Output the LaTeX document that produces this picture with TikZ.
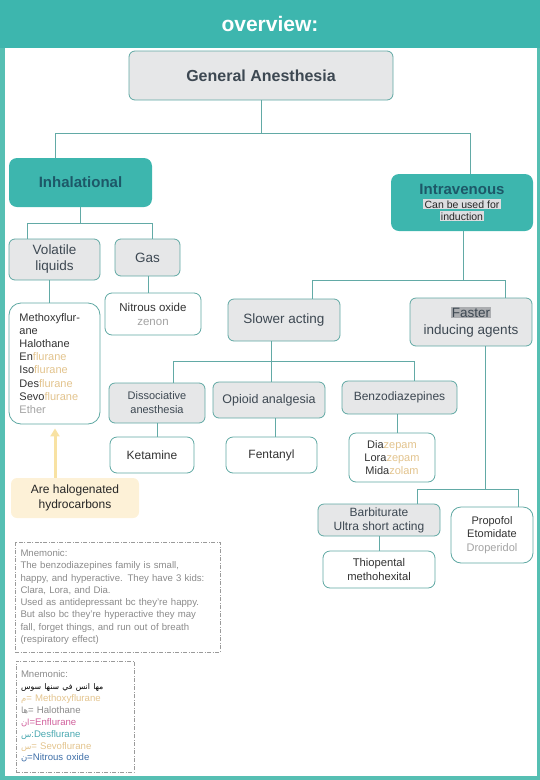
\documentclass[tikz,border=0pt]{standalone}
\usepackage{fontspec}
\setmainfont{Liberation Sans}
\newfontfamily\arabicfont[Script=Arabic]{DejaVu Sans}
\TeXXeTstate=1
\usetikzlibrary{arrows.meta}
\definecolor{headteal}{HTML}{3DB6AE}
\definecolor{frameteal}{HTML}{56BFB3}
\definecolor{connc}{HTML}{62AAA6}
\definecolor{bordc}{HTML}{5FA8A3}
\definecolor{grayfill}{HTML}{E6E7E8}
\definecolor{slate}{HTML}{3D4852}
\definecolor{darkteal}{HTML}{1D5868}
\definecolor{tanc}{HTML}{E3C48E}
\definecolor{lgray}{HTML}{A3A3A3}
\definecolor{mgray}{HTML}{8A8A8A}
\definecolor{pinkc}{HTML}{D0609C}
\definecolor{mteal}{HTML}{4AA8B0}
\definecolor{bluec}{HTML}{3F6FA8}
\definecolor{hlgray}{HTML}{DCDDE0}
\definecolor{hldark}{HTML}{ABADB0}
\definecolor{yellowc}{HTML}{F8E2A3}
\definecolor{yellowfill}{HTML}{FDF1D7}
\definecolor{dashc}{HTML}{9A9A9A}
\newcommand\fsz[2]{\fontsize{#1}{#2}\selectfont}
\begin{document}
\begin{tikzpicture}[x=1pt,y=-1pt,
  base/.style={inner sep=0pt, align=center, line width=0.8pt},
  graybox/.style={base, draw=bordc, fill=grayfill, rounded corners=6pt, text=slate},
  whitebox/.style={base, draw=bordc, fill=white, rounded corners=7pt, text=black!80},
  tealbox/.style={base, fill=headteal, rounded corners=8pt, text=darkteal},
  conn/.style={draw=connc, line width=0.8pt},
  mnbox/.style={inner sep=0pt, draw=dashc, line width=0.6pt, dash pattern=on 4pt off 1.5pt on 1pt off 1.5pt, text=mgray, align=left}
]
\useasboundingbox (0,0) rectangle (540,780);
% header and frame
\fill[headteal] (0,0) rectangle (540,48);
\fill[frameteal] (0,48) rectangle (5,780);
\fill[frameteal] (537,48) rectangle (540,780);
\fill[frameteal] (0,776) rectangle (540,780);
\node[text=white, font=\bfseries\fsz{21}{24}] (title) at (270,24) {overview:};

% nodes
\node[graybox, minimum width=264pt, minimum height=49pt, font=\bfseries\fsz{16}{19}] (ga) at (261,75.5) {General Anesthesia};
\node[tealbox, minimum width=143pt, minimum height=49pt, font=\bfseries\fsz{15}{18}] (inh) at (80.5,182.5) {Inhalational};
\node[tealbox, minimum width=142pt, minimum height=57pt] (intra) at (462,202.5)
  {{\bfseries\fsz{15}{16}Intravenous}\\[2pt]
   {\fsz{10.5}{16}\color{black!85}\fboxsep=1.2pt\colorbox{hlgray}{Can be used for}}\\
   {\fsz{10.5}{14}\color{black!85}\fboxsep=1.2pt\colorbox{hlgray}{induction}}};
\node[graybox, minimum width=91pt, minimum height=41pt, font=\fsz{13.5}{16}] (vol) at (54.5,259.5) {Volatile\\liquids};
\node[graybox, minimum width=65pt, minimum height=37pt, font=\fsz{13.5}{16}] (gas) at (147.5,257.5) {Gas};
\node[whitebox, rounded corners=12pt, minimum width=91pt, minimum height=121pt, text width=70pt, align=left, font=\fsz{11}{13.1}] (list) at (54.5,363.5)
  {Methoxyflur-\\ane\\Halothane\\En\textcolor{tanc}{flurane}\\Iso\textcolor{tanc}{flurane}\\Des\textcolor{tanc}{flurane}\\Sevo\textcolor{tanc}{flurane}\\\textcolor{lgray}{Ether}};
\node[whitebox, minimum width=96pt, minimum height=42pt, font=\fsz{11.5}{14}] (nitrous) at (153,314) {Nitrous oxide\\\textcolor{lgray}{zenon}};
\node[graybox, minimum width=112pt, minimum height=42pt, font=\fsz{13.5}{16}] (slow) at (284,320) {Slower acting};
\node[graybox, minimum width=122pt, minimum height=48pt, font=\fsz{13.5}{17}] (fast) at (471,322) {{\fboxsep=1pt\colorbox{hldark}{Faster}}\\inducing agents};
\node[graybox, minimum width=96pt, minimum height=40pt, font=\fsz{11}{14}] (diss) at (157,403) {Dissociative\\anesthesia};
\node[graybox, minimum width=112pt, minimum height=36pt, font=\fsz{12.5}{15}] (opioid) at (269,400) {Opioid analgesia};
\node[graybox, minimum width=115pt, minimum height=33pt, font=\fsz{12}{15}] (benzo) at (399.5,397.5) {Benzodiazepines};
\node[whitebox, minimum width=84pt, minimum height=36pt, font=\fsz{12}{15}] (ket) at (152,455) {Ketamine};
\node[whitebox, minimum width=91pt, minimum height=36pt, font=\fsz{12}{15}] (fent) at (271.5,455) {Fentanyl};
\node[whitebox, minimum width=86pt, minimum height=49pt, font=\fsz{11}{13}] (diaz) at (392,457.5)
  {Dia\textcolor{tanc}{zepam}\\Lora\textcolor{tanc}{zepam}\\Mida\textcolor{tanc}{zolam}};
\node[graybox, minimum width=122pt, minimum height=32pt, font=\fsz{12}{14}] (barb) at (379,520) {Barbiturate\\Ultra short acting};
\node[whitebox, rounded corners=10pt, minimum width=82pt, minimum height=56pt, font=\fsz{11}{13.5}] (prop) at (492,535) {Propofol\\Etomidate\\\textcolor{lgray}{Droperidol}};
\node[whitebox, minimum width=112pt, minimum height=37pt, font=\fsz{11.2}{14}] (thio) at (379,569.5) {Thiopental\\methohexital};
\node[base, fill=yellowfill, rounded corners=6pt, minimum width=128pt, minimum height=40pt, text=black!85, font=\fsz{12}{15}] (halo) at (75,498) {Are halogenated\\hydrocarbons};

% mnemonic boxes
\node[mnbox, minimum width=205pt, minimum height=110pt, text width=194pt, font=\fsz{9.6}{12.3}] (mn1) at (117.5,597)
  {Mnemonic:\\The benzodiazepines family is small,\\happy, and hyperactive. They have 3 kids:\\Clara, Lora, and Dia.\\Used as antidepressant bc they're happy.\\But also bc they're hyperactive they may\\fall, forget things, and run out of breath\\(respiratory effect)};
\node[mnbox, minimum width=118pt, minimum height=111pt, text width=108pt, font=\fsz{9.6}{11.9}] (mn2) at (75,716.5)
  {Mnemonic:\\
   {\arabicfont\fsz{7.8}{11.9}\beginR\textcolor{tanc}{مها} \textcolor{mteal}{انس} \textcolor{black}{في} \textcolor{black}{سنها} \textcolor{black}{سوس}\endR}\\
   \textcolor{tanc}{{\arabicfont\fsz{8.5}{11.9}\beginR م\endR}= Methoxyflurane}\\
   \textcolor{mgray}{{\arabicfont\fsz{8.5}{11.9}\beginR ها\endR}= Halothane}\\
   \textcolor{pinkc}{{\arabicfont\fsz{8.5}{11.9}\beginR ان\endR}=Enflurane}\\
   \textcolor{mteal}{{\arabicfont\fsz{8.5}{11.9}\beginR س\endR}:Desflurane}\\
   \textcolor{tanc}{{\arabicfont\fsz{8.5}{11.9}\beginR س\endR}= Sevoflurane}\\
   \textcolor{bluec}{{\arabicfont\fsz{8.5}{11.9}\beginR ن\endR}=Nitrous oxide}};

% x positions and bus levels
\coordinate (xa) at (55,0);   \coordinate (xb) at (470,0);  \coordinate (r1) at (0,133);
\coordinate (xc) at (27,0);   \coordinate (xd) at (152,0);  \coordinate (r2) at (0,223);
\coordinate (xe) at (49,0);   \coordinate (xf) at (148,0);
\coordinate (xg) at (312,0);  \coordinate (xh) at (505,0);  \coordinate (xi) at (463,0); \coordinate (r3) at (0,280);
\coordinate (xj) at (173,0);  \coordinate (xk) at (271,0);  \coordinate (xl) at (414,0); \coordinate (r4) at (0,361);
\coordinate (xm) at (157,0);  \coordinate (xn) at (275,0);  \coordinate (xo) at (397,0);
\coordinate (xp) at (485,0);  \coordinate (xq) at (417,0);  \coordinate (xr) at (518,0); \coordinate (r5) at (0,489);
\coordinate (xs) at (379,0);  \coordinate (xt) at (55,0);

% connectors
\draw[conn] (ga.south) -- (ga.south |- r1);
\draw[conn] (xa |- inh.north) -- (xa |- r1) -- (xb |- r1) -- (xb |- intra.north);
\draw[conn] (inh.south) -- (inh.south |- r2);
\draw[conn] (xc |- vol.north) -- (xc |- r2) -- (xd |- r2) -- (xd |- gas.north);
\draw[conn] (xe |- vol.south) -- (xe |- list.north);
\draw[conn] (xf |- gas.south) -- (xf |- nitrous.north);
\draw[conn] (xi |- intra.south) -- (xi |- r3);
\draw[conn] (xg |- slow.north) -- (xg |- r3) -- (xh |- r3) -- (xh |- fast.north);
\draw[conn] (xk |- slow.south) -- (xk |- r4);
\draw[conn] (xj |- diss.north) -- (xj |- r4) -- (xl |- r4) -- (xl |- benzo.north);
\draw[conn] (xk |- r4) -- (xk |- opioid.north);
\draw[conn] (xm |- diss.south) -- (xm |- ket.north);
\draw[conn] (xn |- opioid.south) -- (xn |- fent.north);
\draw[conn] (xo |- benzo.south) -- (xo |- diaz.north);
\draw[conn] (xp |- fast.south) -- (xp |- r5);
\draw[conn] (xq |- barb.north) -- (xq |- r5) -- (xr |- r5) -- (xr |- prop.north);
\draw[conn] (xs |- barb.south) -- (xs |- thio.north);
\draw[draw=yellowc, line width=3pt, -{Triangle[width=9pt,length=8pt]}, shorten >=4pt] (xt |- halo.north) -- (xt |- list.south);
\end{tikzpicture}
\end{document}
